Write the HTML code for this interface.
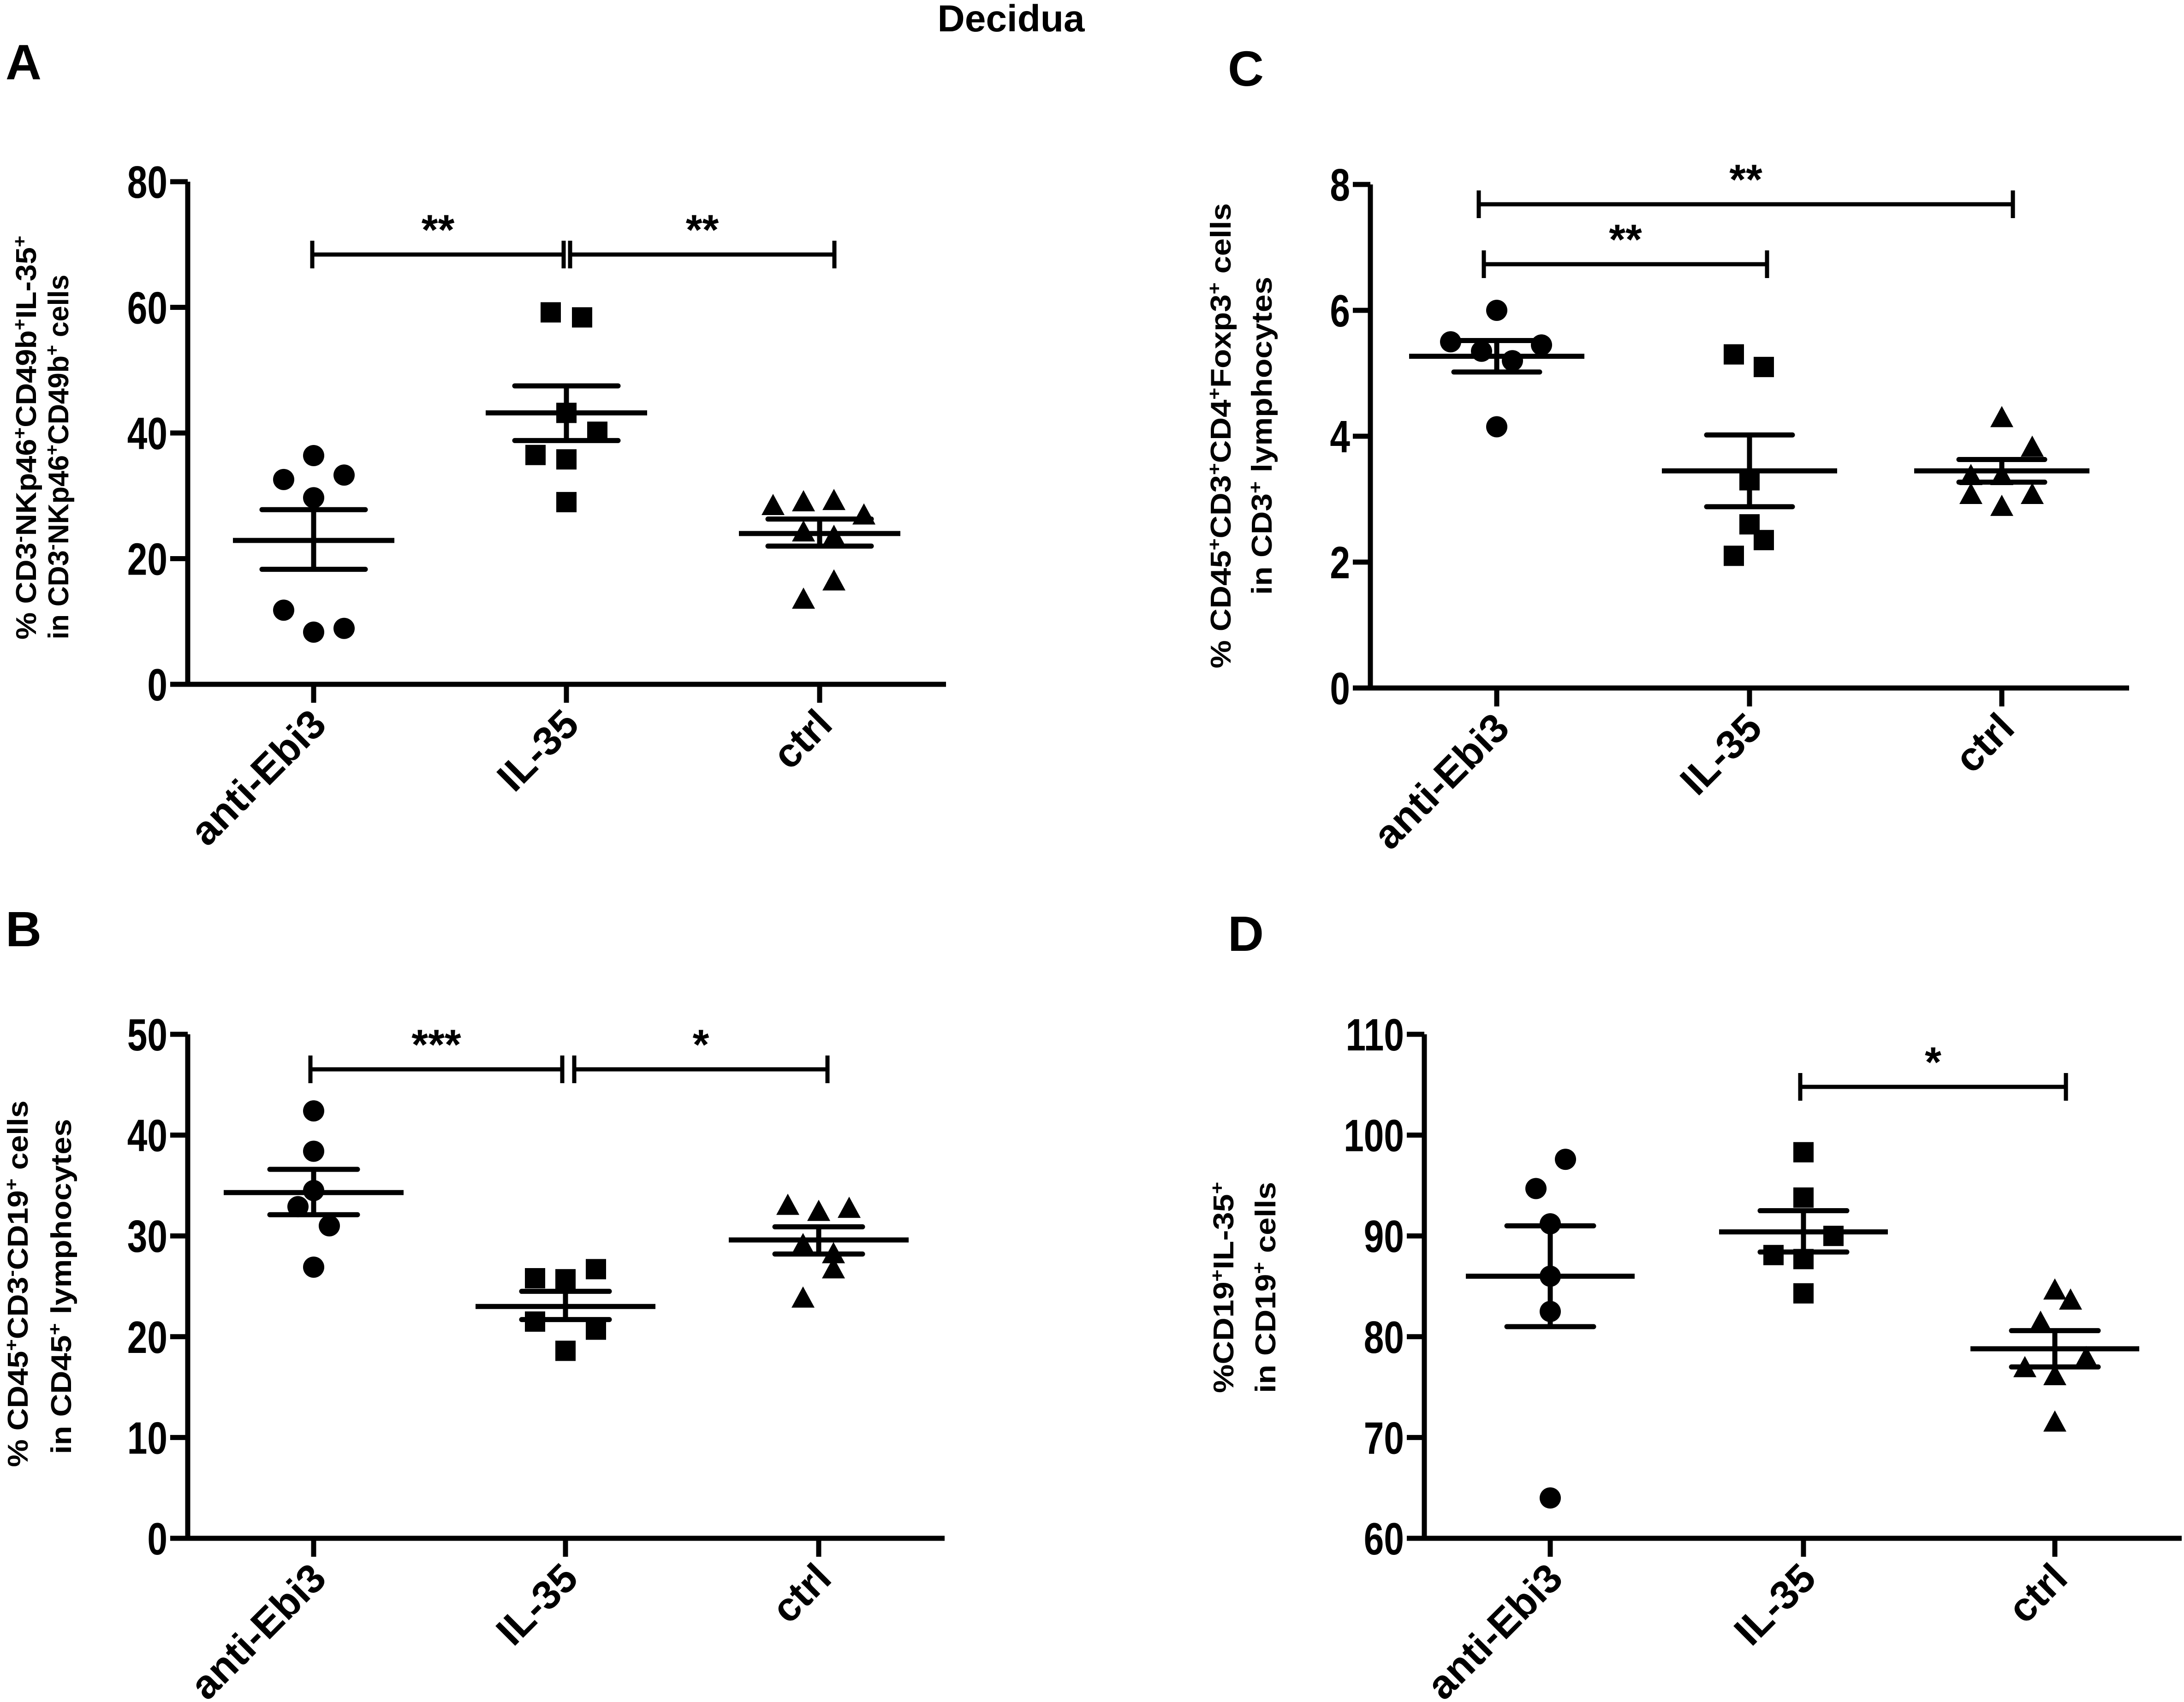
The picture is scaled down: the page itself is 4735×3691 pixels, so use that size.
<!DOCTYPE html>
<html><head><meta charset="utf-8"><style>
html,body{margin:0;padding:0;background:#fff}
svg{display:block}
text{font-family:"Liberation Sans",Arial,sans-serif;font-weight:bold;fill:#000}
</style></head><body>
<svg id="fig" width="4735" height="3691" viewBox="0 0 4735 3691" xmlns="http://www.w3.org/2000/svg">
<text x="2192" y="68" font-size="82" text-anchor="middle">Decidua</text>
<text x="12" y="172" font-size="108">A</text>
<text x="12" y="2052" font-size="108">B</text>
<text x="2662" y="186" font-size="108">C</text>
<text x="2662" y="2062" font-size="108">D</text>

<text font-size="62" transform="translate(78,949) rotate(-90)" text-anchor="middle" textLength="876" lengthAdjust="spacingAndGlyphs">% CD3<tspan baseline-shift="super" font-size="40">-</tspan>NKp46<tspan baseline-shift="super" font-size="40">+</tspan>CD49b<tspan baseline-shift="super" font-size="40">+</tspan>IL-35<tspan baseline-shift="super" font-size="40">+</tspan></text>
<text font-size="62" transform="translate(148,991) rotate(-90)" text-anchor="middle" textLength="791" lengthAdjust="spacingAndGlyphs">in CD3<tspan baseline-shift="super" font-size="40">-</tspan>NKp46<tspan baseline-shift="super" font-size="40">+</tspan>CD49b<tspan baseline-shift="super" font-size="40">+</tspan> cells</text>

<text font-size="62" transform="translate(60,2784) rotate(-90)" text-anchor="middle" textLength="795" lengthAdjust="spacingAndGlyphs">% CD45<tspan baseline-shift="super" font-size="40">+</tspan>CD3<tspan baseline-shift="super" font-size="40">-</tspan>CD19<tspan baseline-shift="super" font-size="40">+</tspan> cells</text>
<text font-size="62" transform="translate(154,2790) rotate(-90)" text-anchor="middle" textLength="727" lengthAdjust="spacingAndGlyphs">in CD45<tspan baseline-shift="super" font-size="40">+</tspan> lymphocytes</text>

<text font-size="62" transform="translate(2668,945) rotate(-90)" text-anchor="middle" textLength="1009" lengthAdjust="spacingAndGlyphs">% CD45<tspan baseline-shift="super" font-size="40">+</tspan>CD3<tspan baseline-shift="super" font-size="40">+</tspan>CD4<tspan baseline-shift="super" font-size="40">+</tspan>Foxp3<tspan baseline-shift="super" font-size="40">+</tspan> cells</text>
<text font-size="62" transform="translate(2757,945) rotate(-90)" text-anchor="middle" textLength="690" lengthAdjust="spacingAndGlyphs">in CD3<tspan baseline-shift="super" font-size="40">+</tspan> lymphocytes</text>

<text font-size="62" transform="translate(2674,2792) rotate(-90)" text-anchor="middle" textLength="458" lengthAdjust="spacingAndGlyphs">%CD19<tspan baseline-shift="super" font-size="40">+</tspan>IL-35<tspan baseline-shift="super" font-size="40">+</tspan></text>
<text font-size="62" transform="translate(2765,2792) rotate(-90)" text-anchor="middle" textLength="458" lengthAdjust="spacingAndGlyphs">in CD19<tspan baseline-shift="super" font-size="40">+</tspan> cells</text>
</svg>
<script>
const categories = ["anti-Ebi3", "IL-35", "ctrl"];

// Panel A values
const aAnti = [36.4, 32.6, 33.3, 29.7, 11.8, 8.3, 8.9];
const aIL35 = [59.2, 58.4, 43.2, 40.2, 36.5, 35.8, 29.0];
const aCtrl = [28.4, 29.0, 29.2, 26.9, 24.2, 23.5, 16.4, 13.5];
const aMean = [22.9, 43.2, 24.0];
const aSemHi = [27.8, 47.5, 26.3];
const aSemLo = [18.3, 38.8, 22.0];
const aTicks = [0, 20, 40, 60, 80];

// Panel B values
const bAnti = [42.4, 38.4, 34.5, 32.9, 31.0, 26.9];
const bIL35 = [25.8, 25.7, 26.7, 21.5, 20.7, 18.6];
const bCtrl = [33.0, 32.4, 32.7, 29.1, 28.2, 26.7, 23.8];
const bMean = [34.3, 23.0, 29.6];
const bSemHi = [36.6, 24.5, 30.9];
const bSemLo = [32.1, 21.7, 28.2];
const bTicks = [0, 10, 20, 30, 40, 50];

// Panel C values
const cAnti = [6.0, 5.5, 5.45, 5.35, 5.2, 4.15];
const cIL35 = [5.3, 5.1, 3.3, 2.6, 2.35, 2.1];
const cCtrl = [4.29, 3.82, 3.37, 3.37, 3.07, 3.07, 2.88];
const cMean = [5.27, 3.45, 3.45];
const cSemHi = [5.52, 4.02, 3.63];
const cSemLo = [5.02, 2.88, 3.27];
const cTicks = [0, 2, 4, 6, 8];

// Panel D values
const dAnti = [97.6, 94.7, 91.2, 86.0, 82.5, 64.0];
const dIL35 = [98.3, 93.8, 90.0, 88.1, 87.7, 84.3];
const dCtrl = [84.6, 83.6, 81.4, 77.9, 76.9, 76.1, 71.5];
const dMean = [86.0, 90.4, 78.8];
const dSemHi = [91.0, 92.5, 80.6];
const dSemLo = [81.0, 88.4, 77.0];
const dTicks = [60, 70, 80, 90, 100, 110];

// layout (jitter offsets in px, purely presentational)
const panels = [
 {id:"a", ax:407, x0:407, x1:2051, y0:1484, y1:394, vmin:0, vmax:80, cats:[680,1228,1777],
  groups:[aAnti,aIL35,aCtrl], mean:aMean, hi:aSemHi, lo:aSemLo, ticks:aTicks,
  jit:[[0,-65,66,0,-65,0,66],[-34,34,0,67,-67,0,0],[-101,-35,31,96,-35,31,31,-35]],
  mw:175, sw:112,
  brackets:[{y:552,x1:677,x2:1222,t:"**"},{y:552,x1:1236,x2:1809,t:"**"}]},
 {id:"b", ax:407, x0:407, x1:2048, y0:3336, y1:2243, vmin:0, vmax:50, cats:[680,1226,1775],
  groups:[bAnti,bIL35,bCtrl], mean:bMean, hi:bSemHi, lo:bSemLo, ticks:bTicks,
  jit:[[0,0,0,-34,34,0],[-66,0,66,-66,66,0],[-67,0,66,-34,32,32,-34]],
  mw:195, sw:95,
  brackets:[{y:2319,x1:673,x2:1219,t:"***"},{y:2319,x1:1245,x2:1794,t:"*"}]},
 {id:"c", ax:2971, x0:2971, x1:4616, y0:1492, y1:400, vmin:0, vmax:8, cats:[3245,3793,4340],
  groups:[cAnti,cIL35,cCtrl], mean:cMean, hi:cSemHi, lo:cSemLo, ticks:cTicks,
  jit:[[0,-100,97,-33,34,0],[-34,31,0,0,31,-34],[0,66,-67,0,-67,66,0]],
  mw:190, sw:93,
  brackets:[{y:443,x1:3206,x2:4364,t:"**"},{y:573,x1:3217,x2:3831,t:"**"}]},
 {id:"d", ax:3088, x0:3088, x1:4730, y0:3336, y1:2243, vmin:60, vmax:110, cats:[3361,3910,4455],
  groups:[dAnti,dIL35,dCtrl], mean:dMean, hi:dSemHi, lo:dSemLo, ticks:dTicks,
  jit:[[33,-31,0,0,0,0],[0,0,65,-65,0,0],[0,34,-31,68,-65,0,0]],
  mw:183, sw:94,
  brackets:[{y:2357,x1:3903,x2:4479,t:"*"}]}
];

const NS = "http://www.w3.org/2000/svg";
const svg = document.getElementById("fig");
function mk(tag, attrs, parent){
  const e = document.createElementNS(NS, tag);
  for (const k in attrs) e.setAttribute(k, attrs[k]);
  (parent||svg).appendChild(e);
  return e;
}
const SW = 11;
panels.forEach(p => {
  const g = mk("g", {});
  
  
  const yScale = v => p.y0 + (v - p.vmin) / (p.vmax - p.vmin) * (p.y1 - p.y0);
  const yAx = mk("line", {x1:p.ax, y1:p.y0+SW/2, x2:p.ax, y2:p.y1, stroke:"#000","stroke-width":SW}, g);
  
  
  const xAx = mk("line", {x1:p.ax-38, y1:p.y0, x2:p.x1, y2:p.y0, stroke:"#000","stroke-width":SW}, g);
  
  
  p.ticks.forEach(t => {
    const y = yScale(t);
    const tl = mk("line", {x1:p.ax-38, y1:y, x2:p.ax, y2:y, stroke:"#000","stroke-width":SW}, g);
    
    
    const tx = mk("text", {x:0, y:0, "font-size":98, "text-anchor":"end", transform:`translate(${p.ax-44},${y+35}) scale(0.8,1)`}, g);
    tx.textContent = t;
    
    
  });
  p.cats.forEach((cx, i) => {
    const tl = mk("line", {x1:cx, y1:p.y0, x2:cx, y2:p.y0+40, stroke:"#000","stroke-width":SW}, g);
    
    
    const tx = mk("text", {x:0, y:0, "font-size":88, "text-anchor":"end", transform:`translate(${cx+32},${p.y0+92}) rotate(-45)`}, g);
    tx.textContent = categories[i];
    
    
    p.groups[i].forEach((v, j) => {
      const px = cx + (p.jit[i][j] || 0), py = yScale(v);
      let m;
      if (i === 0) m = mk("circle", {cx:px, cy:py, r:23, fill:"#000"}, g);
      else if (i === 1) m = mk("rect", {x:px-22, y:py-22, width:44, height:44, fill:"#000"}, g);
      else m = mk("polygon", {points:`${px},${py-26} ${px+25},${py+20} ${px-25},${py+20}`, fill:"#000"}, g);
      
      
    });
    const ym = yScale(p.mean[i]), yh = yScale(p.hi[i]), yl = yScale(p.lo[i]);
    const ml = mk("line", {x1:cx-p.mw, y1:ym, x2:cx+p.mw, y2:ym, stroke:"#000","stroke-width":SW}, g);
    
    
    const vl = mk("line", {x1:cx, y1:yh, x2:cx, y2:yl, stroke:"#000","stroke-width":SW}, g);
    
    
    [yh, yl].forEach(yy => {
      const c = mk("line", {x1:cx-p.sw, y1:yy, x2:cx+p.sw, y2:yy, stroke:"#000","stroke-width":SW, "stroke-linecap":"round"}, g);
      
      
    });
  });
  p.brackets.forEach(b => {
    const bg = mk("g", {}, g);
    
    
    mk("line", {x1:b.x1, y1:b.y, x2:b.x2, y2:b.y, stroke:"#000","stroke-width":9}, bg);
    mk("line", {x1:b.x1, y1:b.y-30, x2:b.x1, y2:b.y+30, stroke:"#000","stroke-width":9}, bg);
    mk("line", {x1:b.x2, y1:b.y-30, x2:b.x2, y2:b.y+30, stroke:"#000","stroke-width":9}, bg);
    const st = mk("text", {x:(b.x1+b.x2)/2, y:b.y-22, "font-size":92, "text-anchor":"middle"}, bg);
    st.textContent = b.t;
    
    
  });
});
</script>
</body></html>
